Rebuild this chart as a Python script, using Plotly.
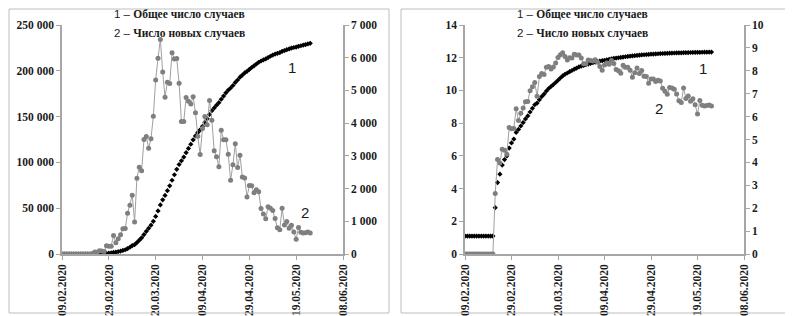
import numpy as np
import pandas as pd
import plotly.graph_objects as go

# ---------------- data ----------------
dates = pd.date_range("2020-02-09", "2020-05-25", freq="D")

new_cases = (
    [0] * 13
    + [14, 62, 53, 97, 93, 78, 250, 238]
    + [240, 566, 342, 466, 587, 769, 778, 1247, 1492, 1797, 977, 2313, 2651, 2547, 3497, 3590,
       3233, 3526, 4207, 5322, 5986, 6557, 5560, 4789, 5249, 5210, 6153, 5959, 5974, 5217, 4050]
    + [4053, 4782, 4668, 4585, 4805, 4316, 3599, 3039, 3836, 4204, 3951, 4694, 4092, 3153, 2972,
       2667, 3786, 3493, 3491, 3047, 2256, 2729, 3370, 2646, 3021, 2357, 2324, 1739, 2091, 2086]
    + [1872, 1965, 1900, 1389, 1221, 1075, 1444, 1401, 1327, 1083, 802, 744, 1402, 888, 992,
       789, 875, 675, 451, 813, 665, 642, 652, 669, 640]
)

total_cases = (
    [3] * 13
    + [17, 79, 132, 229, 322, 400, 650, 888]
    + [1128, 1694, 2036, 2502, 3089, 3858, 4636, 5883, 7375, 9172, 10149, 12462, 15113, 17660,
       21157, 24747, 27980, 31506, 35713, 41035, 47021, 53578, 59138, 63927, 69176, 74386, 80539,
       86498, 92472, 97689, 101739]
    + [105792, 110574, 115242, 119827, 124632, 128948, 132547, 135586, 139422, 143626, 147577,
       152271, 156363, 159516, 162488, 165155, 168941, 172434, 175925, 178972, 181228, 183957,
       187327, 189973, 192994, 195351, 197675, 199414, 201505, 203591]
    + [205463, 207428, 209328, 210717, 211938, 213013, 214457, 215858, 217185, 218268, 219070,
       219814, 221216, 222104, 223096, 223885, 224760, 225435, 225886, 226699, 227364, 228006,
       228658, 229327, 229967]
)

tick_dates = ["2020-02-09", "2020-02-29", "2020-03-20", "2020-04-09",
              "2020-04-29", "2020-05-19", "2020-06-08"]
tick_labels = ["09.02.2020", "29.02.2020", "20.03.2020", "09.04.2020",
               "29.04.2020", "19.05.2020", "08.06.2020"]

legend_1 = "Общее число случаев"
legend_2 = "Число новых случаев"

ln_total = np.log(np.array(total_cases, dtype=float))
new_arr = np.array(new_cases, dtype=float)
ln_new = np.where(new_arr > 0, np.log(np.where(new_arr > 0, new_arr, 1)), 0.0)

# ---------------- figure ----------------
# the page body adds an 8px margin, so the figure is placed at (8, 8) on screen
OFF = 8
W, H = 793 - OFF, 316 - OFF
def px(x): return max(0.0, (x - OFF) / W)
def py(y): return min(1.0, 1 - (y - OFF) / H)

BLACK = "#000000"
GRAY_M = "#7f7f7f"
GRAY_L = "#a0a0a0"
AXC = "#a6a6a6"
SERIF = "Liberation Serif, Times New Roman, Times, serif"
tickfont = dict(family=SERIF, size=11.5, color="#1a1a1a", weight=700)

fig = go.Figure()

black_marker = dict(symbol="diamond", size=4, color=BLACK)
gray_marker = dict(symbol="circle", size=5, color=GRAY_M)

fig.add_trace(go.Scatter(x=dates, y=total_cases, mode="markers", marker=black_marker,
                         xaxis="x", yaxis="y", showlegend=False))
fig.add_trace(go.Scatter(x=dates, y=new_cases, mode="lines+markers", marker=gray_marker,
                         line=dict(color=GRAY_L, width=1), xaxis="x", yaxis="y2", showlegend=False))
fig.add_trace(go.Scatter(x=dates, y=ln_total, mode="markers", marker=black_marker,
                         xaxis="x2", yaxis="y3", showlegend=False))
fig.add_trace(go.Scatter(x=dates, y=ln_new, mode="lines+markers", marker=gray_marker,
                         line=dict(color=GRAY_L, width=1), xaxis="x2", yaxis="y4", showlegend=False))

xcommon = dict(type="date", range=["2020-02-09", "2020-06-08"], tickvals=tick_dates,
               ticktext=tick_labels, tickangle=-90, ticks="outside", ticklen=4, tickcolor=AXC,
               showline=True, linecolor=AXC, linewidth=1.5, showgrid=False, zeroline=False,
               tickfont=tickfont, automargin=False)
ycommon = dict(ticks="outside", ticklen=4, tickcolor=AXC, showline=True, linecolor=AXC,
               linewidth=1.5, showgrid=False, zeroline=False, tickfont=tickfont,
               domain=[py(254), py(25)], automargin=False)

fig.update_layout(
    width=W, height=H, margin=dict(l=0, r=0, t=0, b=0, pad=0, autoexpand=False),
    paper_bgcolor="white", plot_bgcolor="white", separators=", ",
    xaxis=dict(domain=[px(62), px(343)], anchor="y", **xcommon),
    yaxis=dict(anchor="x", range=[0, 250000], dtick=50000, tickformat=",d", **ycommon),
    yaxis2=dict(anchor="x", overlaying="y", side="right", range=[0, 7000], dtick=1000,
                tickformat=",d", **ycommon),
    xaxis2=dict(domain=[px(465), px(744)], anchor="y3", **xcommon),
    yaxis3=dict(anchor="x2", range=[0, 14], dtick=2, **ycommon),
    yaxis4=dict(anchor="x2", overlaying="y3", side="right", range=[0, 10], dtick=1, **ycommon),
)

# panel frames
for x0, x1 in [(9, 389), (401, 791)]:
    fig.add_shape(type="rect", xref="paper", yref="paper", x0=px(x0), x1=px(x1),
                  y0=py(313), y1=py(9), line=dict(color="#bfbfbf", width=1))

serif_b = "font-family:Liberation Serif;font-weight:bold"
for x_left in (112, 515):
    for i, (lab, yy) in enumerate([(legend_1, 15), (legend_2, 33)]):
        fig.add_annotation(xref="paper", yref="paper", x=px(x_left), y=py(yy),
                           xanchor="left", yanchor="middle", showarrow=False,
                           text=f"{i+1} – <span style='{serif_b}'>{lab}</span>",
                           font=dict(family="Liberation Sans", size=11.5, color="#1a1a1a"))

for txt, xx, yy in [("1", 292, 67), ("2", 305, 212), ("1", 703, 69), ("2", 659, 108)]:
    fig.add_annotation(xref="paper", yref="paper", x=px(xx), y=py(yy), showarrow=False,
                       xanchor="center", yanchor="middle", text=txt,
                       font=dict(family="Liberation Sans", size=15, color="#1a1a1a"))

fig.write_html("out.html")
